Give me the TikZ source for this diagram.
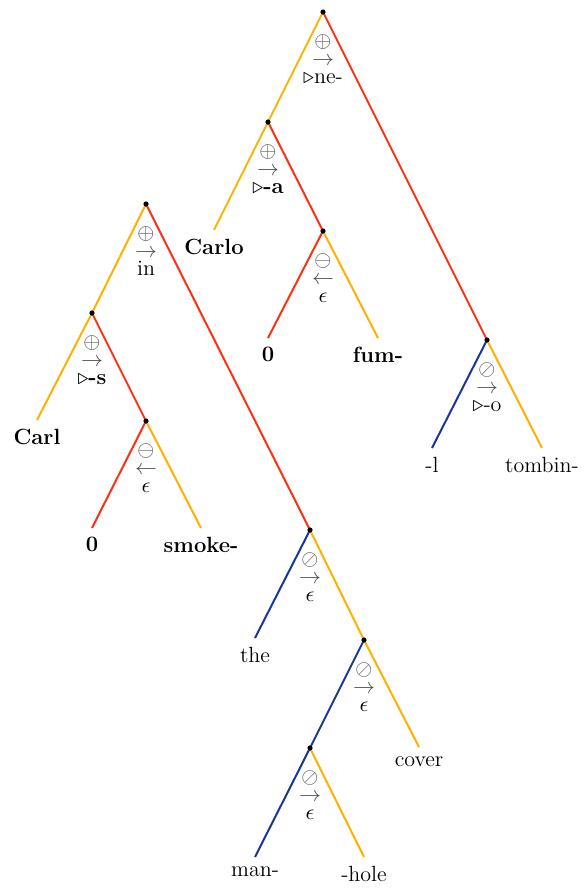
\documentclass[tikz,border=0pt]{standalone}
\usepackage{amsmath}
\usetikzlibrary{calc}
\definecolor{ly}{RGB}{255,176,0}
\definecolor{lr}{RGB}{250,50,20}
\definecolor{lb}{RGB}{25,55,155}
\tikzset{
  x=0.5pt,y=-0.5pt,
  yb/.style={draw=ly,line width=1pt},
  rb/.style={draw=lr,line width=1pt},
  bb/.style={draw=lb,line width=1pt},
  dot/.style={circle,fill=black,inner sep=0pt,minimum size=2.6pt},
  leaf/.style={anchor=north,inner sep=0pt,yshift=-4.5pt,font=\fontsize{11}{13}\selectfont},
  opstack/.style={anchor=north,inner sep=0pt,align=center,font=\fontsize{11}{8.9}\selectfont},
}
\newcommand{\opl}[5]{%
  \node[opstack] (#1l) at ($(#2)+(0,22.5)$)
    {{\color{black!70}$#3$}\\{\color{black!70}$#4$}\\#5};
}
\begin{document}
\begin{tikzpicture}
\useasboundingbox (0,0) rectangle (584,891);
% ---------- tree 1
\coordinate (R1) at (323,12);
\coordinate (A1) at (268,122);
\coordinate (B1) at (487,340);
\coordinate (C1) at (323,231);
\coordinate (lCarlo) at (214,230);
\coordinate (lzero1) at (268,338);
\coordinate (lfum) at (378,338);
\coordinate (ll) at (432,448);
\coordinate (ltombin) at (542,448);
\draw[yb] (R1) -- (A1);
\draw[rb] (R1) -- (B1);
\draw[yb] (A1) -- (lCarlo);
\draw[rb] (A1) -- (C1);
\draw[rb] (C1) -- (lzero1);
\draw[yb] (C1) -- (lfum);
\draw[bb] (B1) -- (ll);
\draw[yb] (B1) -- (ltombin);
\foreach \n in {R1,A1,B1,C1} \node[dot] (\n d) at (\n) {};
\node[leaf] (tCarlo) at (lCarlo) {\textbf{Carlo}};
\node[leaf] (tzero1) at (lzero1) {\textbf{0}};
\node[leaf] (tfum) at (lfum) {\textbf{fum-}};
\node[leaf] (tl) at (ll) {-l};
\node[leaf] (ttombin) at (ltombin) {tombin-};
\opl{R1}{R1}{\oplus}{\rightarrow}{$\triangleright$ne-}
\opl{A1}{A1}{\oplus}{\rightarrow}{$\triangleright$\textbf{-a}}
\opl{C1}{C1}{\ominus}{\leftarrow}{$\epsilon$}
\opl{B1}{B1}{\oslash}{\rightarrow}{$\triangleright$-o}
% ---------- tree 2
\coordinate (R2) at (146,204);
\coordinate (A2) at (92,313);
\coordinate (B2) at (310,530);
\coordinate (C2) at (146,421);
\coordinate (D2) at (364,640);
\coordinate (E2) at (310,748);
\coordinate (lCarl) at (37,420);
\coordinate (lzero2) at (92,528);
\coordinate (lsmoke) at (201,528);
\coordinate (lthe) at (255,638);
\coordinate (lcover) at (419,747);
\coordinate (lman) at (255,857);
\coordinate (lhole) at (364,857);
\draw[yb] (R2) -- (A2);
\draw[rb] (R2) -- (B2);
\draw[yb] (A2) -- (lCarl);
\draw[rb] (A2) -- (C2);
\draw[rb] (C2) -- (lzero2);
\draw[yb] (C2) -- (lsmoke);
\draw[bb] (B2) -- (lthe);
\draw[yb] (B2) -- (D2);
\draw[bb] (D2) -- (E2);
\draw[yb] (D2) -- (lcover);
\draw[bb] (E2) -- (lman);
\draw[yb] (E2) -- (lhole);
\foreach \n in {R2,A2,B2,C2,D2,E2} \node[dot] (\n d) at (\n) {};
\node[leaf] (tCarl) at (lCarl) {\textbf{Carl}};
\node[leaf] (tzero2) at (lzero2) {\textbf{0}};
\node[leaf] (tsmoke) at (lsmoke) {\textbf{smoke-}};
\node[leaf] (tthe) at (lthe) {the};
\node[leaf] (tcover) at (lcover) {cover};
\node[leaf] (tman) at (lman) {man-};
\node[leaf] (thole) at (lhole) {-hole};
\opl{R2}{R2}{\oplus}{\rightarrow}{in}
\opl{A2}{A2}{\oplus}{\rightarrow}{$\triangleright$\textbf{-s}}
\opl{C2}{C2}{\ominus}{\leftarrow}{$\epsilon$}
\opl{B2}{B2}{\oslash}{\rightarrow}{$\epsilon$}
\opl{D2}{D2}{\oslash}{\rightarrow}{$\epsilon$}
\opl{E2}{E2}{\oslash}{\rightarrow}{$\epsilon$}
\end{tikzpicture}
\end{document}
